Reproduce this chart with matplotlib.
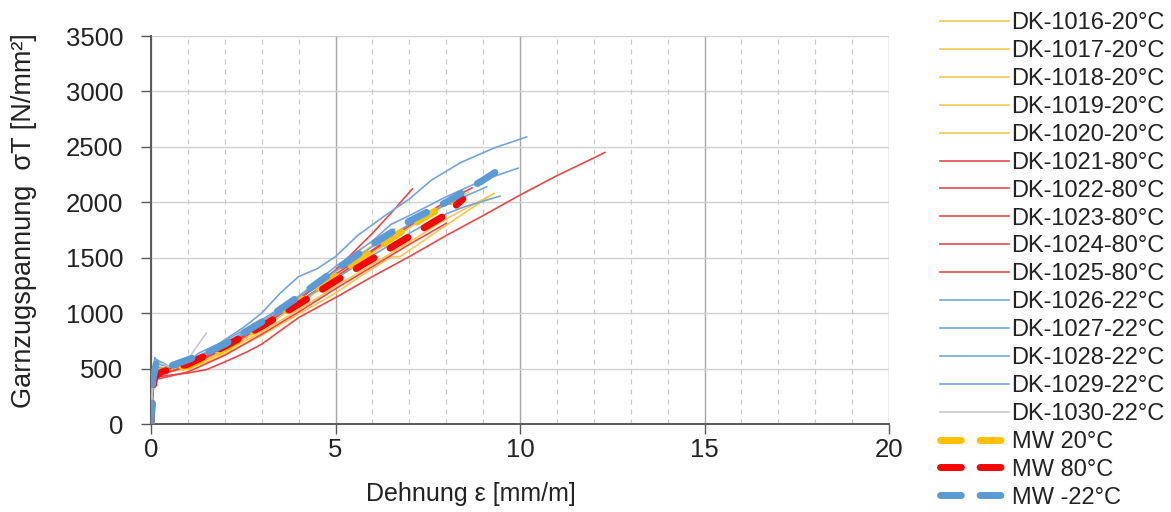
import matplotlib
matplotlib.use("Agg")
import matplotlib.pyplot as plt
from matplotlib.ticker import MultipleLocator

plt.rcParams['font.family'] = ['Liberation Sans', 'DejaVu Sans']

# ---------------- data ----------------
x_1016 = [0, 0.05, 0.1, 0.3, 0.6, 1.0, 1.5, 2, 3, 4, 5, 5.8, 6.5, 6.75, 7.5, 8.3, 9.13]
y_1016 = [0, 330, 450, 470, 480, 500, 560, 630, 800, 990, 1180, 1360, 1505, 1510, 1680, 1860, 2045]
x_1017 = [0, 0.05, 0.12, 0.4, 1, 1.5, 2, 3, 4, 5, 6, 7, 8, 8.6]
y_1017 = [0, 380, 500, 490, 520, 590, 680, 880, 1100, 1330, 1560, 1780, 1990, 2090]
x_1018 = [0, 0.05, 0.1, 0.4, 1, 2, 3, 4, 5, 6, 7, 7.6]
y_1018 = [0, 350, 470, 480, 510, 660, 860, 1080, 1310, 1540, 1770, 1900]
x_1019 = [0, 0.05, 0.12, 0.5, 1, 2, 3, 4, 5, 6, 6.6]
y_1019 = [0, 400, 520, 500, 540, 700, 900, 1130, 1370, 1610, 1760]
x_1020 = [0, 0.04, 0.1, 0.3, 1, 2, 3, 4, 5, 6, 7, 8, 9.3]
y_1020 = [0, 300, 430, 470, 500, 650, 830, 1030, 1240, 1440, 1640, 1850, 2080]

x_1021 = [0, 0.05, 0.1, 0.5, 1, 1.5, 2, 2.6, 3, 4, 5, 6, 7, 8, 9, 10, 11, 12, 12.3]
y_1021 = [0, 300, 420, 440, 460, 490, 560, 650, 720, 960, 1140, 1330, 1510, 1700, 1880, 2065, 2240, 2400, 2450]
x_1022 = [0, 0.05, 0.1, 0.5, 1, 2, 3, 4, 5, 6, 6.5, 7.08]
y_1022 = [0, 350, 470, 500, 540, 690, 890, 1120, 1390, 1720, 1900, 2120]
x_1023 = [0, 0.05, 0.1, 0.4, 1, 2, 3, 4, 5, 6, 7, 8, 8.7]
y_1023 = [0, 320, 450, 460, 520, 680, 880, 1100, 1320, 1560, 1790, 2010, 2130]
x_1024 = [0, 0.05, 0.1, 0.5, 1, 2, 3, 4, 5, 6, 7, 8]
y_1024 = [0, 280, 400, 430, 470, 620, 810, 1010, 1220, 1420, 1620, 1810]
x_1025 = [0, 0.05, 0.12, 0.5, 1, 2, 3, 4, 5, 6, 7, 7.6]
y_1025 = [0, 360, 480, 470, 530, 700, 900, 1130, 1350, 1570, 1790, 1910]

x_1026 = [0, 0.04, 0.1, 0.2, 0.5, 1, 1.5, 2, 2.5, 3, 3.5, 4, 4.5, 5, 5.6, 6.3, 7, 7.6, 8.4, 9.3, 10.18]
y_1026 = [0, 350, 600, 560, 510, 560, 650, 760, 870, 1000, 1180, 1330, 1400, 1510, 1700, 1870, 2030, 2200, 2360, 2490, 2590]
x_1027 = [0, 0.04, 0.1, 0.3, 0.6, 1, 1.5, 2, 3, 4, 5, 6, 6.5, 7, 8, 9, 9.95]
y_1027 = [0, 400, 560, 530, 510, 570, 640, 730, 920, 1150, 1420, 1650, 1800, 1880, 2050, 2200, 2308]
x_1028 = [0, 0.04, 0.1, 0.3, 1, 2, 3, 4, 5, 6, 7, 7.8, 8.5, 9.46]
y_1028 = [0, 380, 520, 500, 550, 720, 900, 1100, 1310, 1520, 1720, 1870, 1960, 2056]
x_1029 = [0, 0.05, 0.15, 0.5, 1, 1.3, 2, 3, 4, 5, 6, 7, 8, 9.1]
y_1029 = [0, 420, 580, 520, 560, 640, 750, 940, 1150, 1380, 1600, 1800, 1980, 2140]
x_1030 = [0, 0.05, 0.15, 0.5, 1, 1.2, 1.5]
y_1030 = [0, 400, 560, 520, 580, 680, 820]

x_mw20 = [0, 0.05, 0.1, 0.3, 1, 2, 3, 4, 5, 6, 7, 8, 8.3]
y_mw20 = [0, 330, 460, 480, 520, 680, 880, 1100, 1330, 1560, 1780, 1980, 2040]
x_mw80 = [0, 0.05, 0.1, 0.3, 1, 2, 3, 4, 5, 6, 7, 8, 8.45]
y_mw80 = [0, 300, 430, 470, 540, 700, 880, 1080, 1290, 1490, 1690, 1890, 2030]
x_mwm22 = [0, 0.05, 0.15, 0.5, 1, 1.5, 2, 3, 4, 5, 6, 7, 8, 9, 9.7]
y_mwm22 = [0, 400, 560, 520, 580, 640, 720, 920, 1150, 1390, 1620, 1830, 2000, 2200, 2350]

thin_labels = ["DK-1016-20°C", "DK-1017-20°C", "DK-1018-20°C", "DK-1019-20°C", "DK-1020-20°C",
               "DK-1021-80°C", "DK-1022-80°C", "DK-1023-80°C", "DK-1024-80°C", "DK-1025-80°C",
               "DK-1026-22°C", "DK-1027-22°C", "DK-1028-22°C", "DK-1029-22°C", "DK-1030-22°C"]
thin_x = [x_1016, x_1017, x_1018, x_1019, x_1020, x_1021, x_1022, x_1023, x_1024, x_1025,
          x_1026, x_1027, x_1028, x_1029, x_1030]
thin_y = [y_1016, y_1017, y_1018, y_1019, y_1020, y_1021, y_1022, y_1023, y_1024, y_1025,
          y_1026, y_1027, y_1028, y_1029, y_1030]
mw_labels = ["MW 20°C", "MW 80°C", "MW -22°C"]
mw_x = [x_mw20, x_mw80, x_mwm22]
mw_y = [y_mw20, y_mw80, y_mwm22]

# ---------------- styling ----------------
thin_colors = ["#F4C84E"] * 5 + ["#E8484C"] * 5 + ["#75A5D8"] * 4 + ["#C9C9C9"]
mw_colors = ["#FFC000", "#FF0000", "#5B9BD5"]

fig = plt.figure(figsize=(11.71, 5.12), dpi=100)
ax = fig.add_axes([151 / 1171, 88 / 512, 738 / 1171, 388 / 512])

for xs, ys, c, lab in zip(thin_x, thin_y, thin_colors, thin_labels):
    ax.plot(xs, ys, color=c, lw=1.2, label=lab, zorder=3)
for xs, ys, c, lab in zip(mw_x, mw_y, mw_colors, mw_labels):
    ax.plot(xs, ys, color=c, lw=5.0, ls=(0, (3.0, 2.7)), dash_capstyle='round',
            label=lab, zorder=4)

ax.set_xlim(0, 20)
ax.set_ylim(0, 3500)
ax.xaxis.set_major_locator(MultipleLocator(5))
ax.xaxis.set_minor_locator(MultipleLocator(1))
ax.yaxis.set_major_locator(MultipleLocator(500))

ax.grid(which='major', axis='x', color='#A6A6A6', lw=1.0, zorder=0)
ax.grid(which='minor', axis='x', color='#C8C8C8', lw=0.9, ls=(0, (4, 4)), zorder=0)
ax.grid(which='major', axis='y', color='#D0D0D0', lw=1.0, zorder=0)
ax.set_axisbelow(True)

for s in ['top', 'right']:
    ax.spines[s].set_visible(False)
for s in ['left', 'bottom']:
    ax.spines[s].set_color('#595959')
    ax.spines[s].set_linewidth(1.4)

ax.tick_params(axis='both', which='major', labelsize=18.5, direction='out', length=7,
               width=1.0, color='#595959', labelcolor='#222222')
ax.tick_params(axis='x', which='minor', length=0)
ax.tick_params(axis='x', pad=3)
ax.tick_params(axis='y', pad=13)

ax.set_xlabel("Dehnung ε [mm/m]", fontsize=18, color='#222222')
ax.xaxis.set_label_coords(0.434, -0.15)
ax.set_ylabel("Garnzugspannung  σT [N/mm²]", fontsize=19.5, color='#222222')
ax.yaxis.set_label_coords(-0.155, 0.525)

h, l = ax.get_legend_handles_labels()
leg = fig.legend(h, l, loc='upper left', bbox_to_anchor=(928 / 1171, 1.0),
                 frameon=False, fontsize=17, handlelength=2.9, handletextpad=0.12,
                 labelspacing=0.25, borderaxespad=0.12)
for t in leg.get_texts():
    t.set_color('#222222')

fig.savefig("out.png", dpi=100)
